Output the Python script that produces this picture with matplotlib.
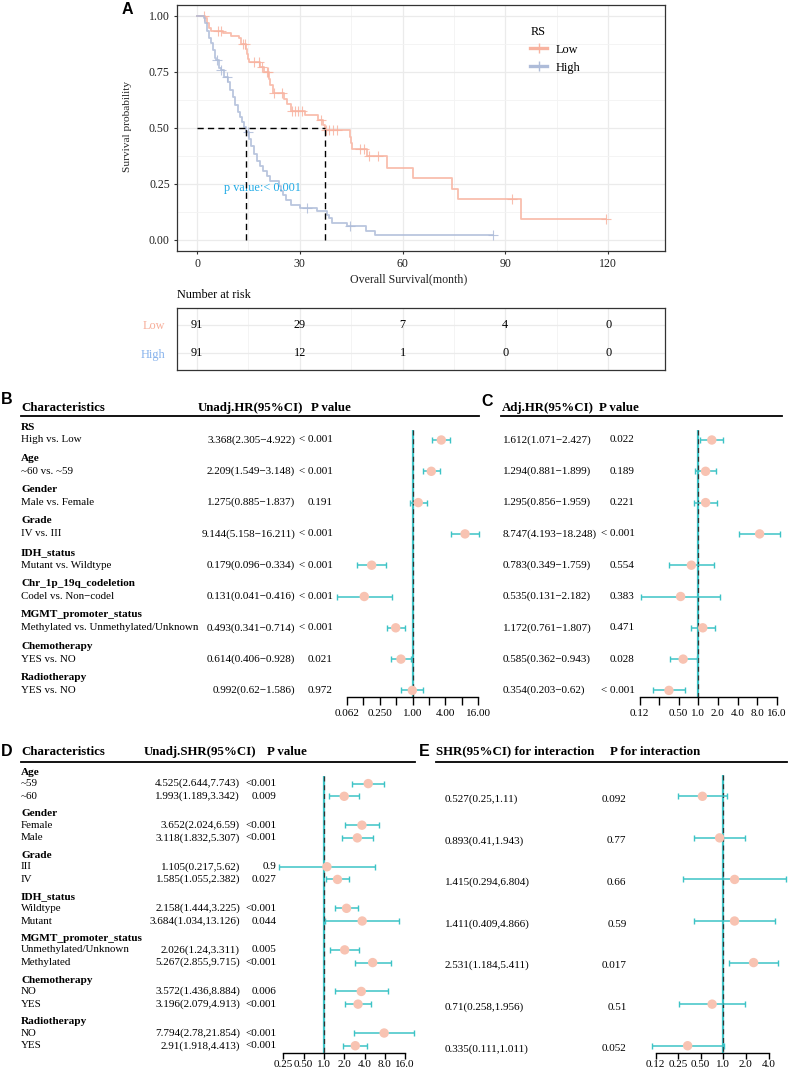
import numpy as np
import matplotlib
matplotlib.use('Agg')
import matplotlib.pyplot as plt
from matplotlib.lines import Line2D
from matplotlib.ticker import NullLocator

# ------------------------------------------------------------------ data
# Panel A: Kaplan-Meier step points (time in months, survival after step)
low_t = [0, 2.3, 2.8, 3.5, 4.2, 7.5, 9.8, 12.3, 12.9, 14.2, 14.7, 15.0, 15.3, 18.4,
         19.6, 20.9, 21.3, 22.1, 25.4, 26.2, 27.3, 31.6, 35.3, 36.9, 37.4, 44.6,
         44.9, 45.2, 49.7, 55.6, 62.9, 74.5, 76.3, 94.5]
low_s = [1.0, 0.989, 0.967, 0.945, 0.934, 0.923, 0.912, 0.900, 0.876, 0.853, 0.830,
         0.806, 0.794, 0.772, 0.750, 0.716, 0.693, 0.654, 0.630, 0.606, 0.576, 0.559,
         0.537, 0.513, 0.489, 0.460, 0.432, 0.405, 0.372, 0.322, 0.275, 0.227, 0.182,
         0.091]
low_end = 119.3
low_cens = [2.1, 6.2, 7.1, 13.4, 13.9, 16.6, 18.0, 18.9, 20.3, 20.8, 22.6, 24.8, 27.8,
            28.7, 29.6, 30.5, 36.2, 37.6, 38.5, 39.8, 41.0, 47.5, 48.6, 50.2, 52.9,
            92.0, 119.3]

high_t = [0, 2.0, 2.4, 2.9, 3.4, 4.2, 4.7, 5.2, 5.5, 6.4, 6.9, 7.8, 9.0, 9.7, 10.5,
          11.1, 11.9, 12.5, 13.0, 13.6, 14.3, 15.2, 15.9, 16.6, 17.4, 18.3, 19.4,
          20.5, 21.2, 24.0, 24.5, 25.0, 26.0, 27.3, 30.0, 35.0, 37.8, 38.5, 39.5,
          43.8, 49.3, 52.0]
high_s = [1.0, 0.989, 0.967, 0.934, 0.901, 0.879, 0.846, 0.813, 0.802, 0.769, 0.758,
          0.725, 0.703, 0.670, 0.637, 0.604, 0.571, 0.549, 0.527, 0.505, 0.483, 0.450,
          0.417, 0.385, 0.352, 0.330, 0.308, 0.286, 0.264, 0.242, 0.220, 0.198, 0.176,
          0.155, 0.144, 0.128, 0.109, 0.096, 0.077, 0.060, 0.040, 0.020]
high_end = 86.5
high_cens = [5.7, 7.1, 8.9, 14.8, 32.0, 44.7, 86.5]

risk_times = [0, 30, 60, 90, 120]
risk_low = [91, 29, 7, 4, 0]
risk_high = [91, 12, 1, 0, 0]
p_text = "p value:< 0.001"

# Panel B / C
b_groups = ["RS", "Age", "Gender", "Grade", "IDH_status", "Chr_1p_19q_codeletion",
            "MGMT_promoter_status", "Chemotherapy", "Radiotherapy"]
b_comp = ["High vs. Low", "~60 vs. ~59", "Male vs. Female", "IV vs. III",
          "Mutant vs. Wildtype", "Codel vs. Non\u2212codel",
          "Methylated vs. Unmethylated/Unknown", "YES vs. NO", "YES vs. NO"]
b_hr = [3.368, 2.209, 1.275, 9.144, 0.179, 0.131, 0.493, 0.614, 0.992]
b_lo = [2.305, 1.549, 0.885, 5.158, 0.096, 0.041, 0.341, 0.406, 0.62]
b_hi = [4.922, 3.148, 1.837, 16.211, 0.334, 0.416, 0.714, 0.928, 1.586]
b_p = ["< 0.001", "< 0.001", "0.191", "< 0.001", "< 0.001", "< 0.001", "< 0.001",
       "0.021", "0.972"]

c_hr = [1.612, 1.294, 1.295, 8.747, 0.783, 0.535, 1.172, 0.585, 0.354]
c_lo = [1.071, 0.881, 0.856, 4.193, 0.349, 0.131, 0.761, 0.362, 0.203]
c_hi = [2.427, 1.899, 1.959, 18.248, 1.759, 2.182, 1.807, 0.943, 0.62]
c_p = ["0.022", "0.189", "0.221", "< 0.001", "0.554", "0.383", "0.471", "0.028",
       "< 0.001"]

# Panel D / E
d_groups = ["Age", "Gender", "Grade", "IDH_status", "MGMT_promoter_status",
            "Chemotherapy", "Radiotherapy"]
d_levels = [["~59", "~60"], ["Female", "Male"], ["III", "IV"], ["Wildtype", "Mutant"],
            ["Unmethylated/Unknown", "Methylated"], ["NO", "YES"], ["NO", "YES"]]
d_hr = [4.525, 1.993, 3.652, 3.118, 1.105, 1.585, 2.158, 3.684, 2.026, 5.267, 3.572,
        3.196, 7.794, 2.91]
d_lo = [2.644, 1.189, 2.024, 1.832, 0.217, 1.055, 1.444, 1.034, 1.24, 2.855, 1.436,
        2.079, 2.78, 1.918]
d_hi = [7.743, 3.342, 6.59, 5.307, 5.62, 2.382, 3.225, 13.126, 3.311, 9.715, 8.884,
        4.913, 21.854, 4.413]
d_p = ["<0.001", "0.009", "<0.001", "<0.001", "0.9", "0.027", "<0.001", "0.044",
       "0.005", "<0.001", "0.006", "<0.001", "<0.001", "<0.001"]

e_hr = [0.527, 0.893, 1.415, 1.411, 2.531, 0.71, 0.335]
e_lo = [0.25, 0.41, 0.294, 0.409, 1.184, 0.258, 0.111]
e_hi = [1.11, 1.943, 6.804, 4.866, 5.411, 1.956, 1.011]
e_p = ["0.092", "0.77", "0.66", "0.59", "0.017", "0.51", "0.052"]

# ------------------------------------------------------------------ style
W, H = 790, 1074
SERIF = ['Liberation Serif', 'DejaVu Serif']
SANS = ['Liberation Sans', 'DejaVu Sans']
plt.rcParams['font.family'] = SERIF
LOW_C = '#F8B3A0'
HIGH_C = '#AEBCD9'
LOW_LAB = '#F7AE9A'
HIGH_LAB = '#86B2EC'
TEAL = '#3DC3C6'
SALMON = '#F8C3B2'
TXT = '#222222'
GRID = '#EBEBEB'

fig = plt.figure(figsize=(W / 100, H / 100), dpi=100)


def pax(x0, y0, x1, y1):
    return fig.add_axes([x0 / W, 1 - y1 / H, (x1 - x0) / W, (y1 - y0) / H])


ov = fig.add_axes([0, 0, 1, 1])
ov.set_xlim(0, W)
ov.set_ylim(H, 0)
ov.axis('off')
ov.patch.set_alpha(0)


def T(x, y, s, size=8, bold=False, ha='left', color='black', fam=None, **kw):
    ov.text(x, y, s, fontsize=size, fontweight='bold' if bold else 'normal',
            ha=ha, va='center', color=color, family=fam or SERIF, **kw)


# ------------------------------------------------------------------ panel A
ax = pax(177, 4.6, 665, 251)
ax.set_xlim(-5.84, 136.6)
ax.set_ylim(-0.05, 1.05)
ax.set_xticks(risk_times)
ax.set_xticks([15, 45, 75, 105], minor=True)
ax.set_yticks([0, 0.25, 0.5, 0.75, 1.0])
ax.set_yticklabels(['0.00', '0.25', '0.50', '0.75', '1.00'])
ax.set_yticks([0.125, 0.375, 0.625, 0.875], minor=True)
ax.grid(which='major', color=GRID, lw=0.9)
ax.grid(which='minor', color='#F3F3F3', lw=0.6)
ax.set_axisbelow(True)
ax.tick_params(which='major', length=2.2, width=0.8, color='#333333', labelsize=8.6,
               labelcolor=TXT, pad=3.0)
ax.tick_params(which='minor', length=0)
for s in ax.spines.values():
    s.set_color('#333333')
    s.set_linewidth(0.9)


def km(t, s, t_end, cens, color):
    tt = np.r_[t, t_end]
    ss = np.r_[s, s[-1]]
    ax.step(tt, ss, where='post', color=color, lw=1.3, alpha=0.85, zorder=3)
    t_arr = np.asarray(t)
    idx = np.searchsorted(t_arr, cens, side='right') - 1
    ax.plot(cens, np.asarray(s)[idx], linestyle='none', marker='+', ms=6.5, mew=0.8,
            color=color, alpha=0.85, zorder=3)
    med = t_arr[np.argmax(np.asarray(s) <= 0.5)]
    return med


med_low = km(low_t, low_s, low_end, low_cens, LOW_C)
med_high = km(high_t, high_s, high_end, high_cens, HIGH_C)
dash = (0, (4.5, 3))
ax.plot([0, max(med_low, med_high)], [0.5, 0.5], color='black', lw=1.0, ls=dash, zorder=4)
ax.vlines([med_high, med_low], 0, 0.5, color='black', lw=1.0, linestyles=[dash], zorder=4)
ax.text(8.0, 0.233, p_text, color='#1FAAE6', fontsize=8.8, va='center', ha='left')

handles = [Line2D([], [], color=LOW_C, lw=2.4, marker='+', ms=7, mew=1),
           Line2D([], [], color=HIGH_C, lw=2.4, marker='+', ms=7, mew=1)]
leg = ax.legend(handles, ['Low', 'High'], title='RS', loc='upper left',
                bbox_to_anchor=(0.724, 0.915), frameon=False, fontsize=8.8,
                title_fontsize=8.8, handlelength=1.4, handletextpad=0.7,
                labelspacing=0.5, borderaxespad=0, borderpad=0, alignment='left')

T(128, 126.7, 'Survival probability', size=8.2, rotation=90, ha='center', color=TXT)
T(409, 279.5, 'Overall Survival(month)', size=8.6, ha='center', color=TXT)
T(177, 295, 'Number at risk', size=8.8)
T(127, 10, 'A', size=11.5, bold=True, ha='center', fam=SANS)

# risk table
rt = pax(177, 307.7, 665, 370)
rt.set_xlim(-5.84, 136.6)
rt.set_ylim(0.4, 2.6)
rt.set_xticks(risk_times)
rt.set_xticks([15, 45, 75, 105], minor=True)
rt.set_yticks([2, 1])
rt.set_yticklabels(['Low', 'High'])
rt.grid(which='major', color=GRID, lw=0.9)
rt.grid(which='minor', axis='x', color='#F3F3F3', lw=0.6)
rt.set_axisbelow(True)
rt.tick_params(axis='x', which='both', length=0, labelbottom=False)
rt.tick_params(axis='y', length=0, labelsize=8.8, pad=8.5)
for lab, c in zip(rt.get_yticklabels(), [LOW_LAB, HIGH_LAB]):
    lab.set_color(c)
for s in rt.spines.values():
    s.set_color('#333333')
    s.set_linewidth(0.9)
for tm, nl, nh in zip(risk_times, risk_low, risk_high):
    rt.text(tm, 2, str(nl), ha='center', va='center', fontsize=8.8)
    rt.text(tm, 1, str(nh), ha='center', va='center', fontsize=8.8)


# ------------------------------------------------------------------ forest helper
def forest(x0, x1, ref_px, ppd, ys, hr, lo, hi, ref_top, axis_y, ticks, labels,
           tlen=5.5, pad=3.0):
    a = fig.add_axes([x0 / W, 0, (x1 - x0) / W, 1])
    a.set_xscale('log', base=2)
    a.set_xlim(2 ** ((x0 - ref_px) / ppd), 2 ** ((x1 - ref_px) / ppd))
    a.set_ylim(H, 0)
    a.patch.set_visible(False)
    for s in ['top', 'left', 'right']:
        a.spines[s].set_visible(False)
    a.spines['bottom'].set_position(('data', axis_y))
    a.spines['bottom'].set_bounds(ticks[0], ticks[-1])
    a.spines['bottom'].set_linewidth(1.0)
    a.set_xticks(ticks)
    a.set_xticklabels(labels)
    a.xaxis.set_minor_locator(NullLocator())
    a.tick_params(axis='x', direction='out', length=tlen, width=1.0, labelsize=8,
                  pad=pad)
    a.set_yticks([])
    a.vlines(1, ref_top, axis_y, color=TEAL, lw=1.6, zorder=1)
    a.vlines(1, ref_top, axis_y, color='#333333', lw=0.9, linestyles=[(0, (4, 3))],
             zorder=2)
    a.hlines(ys, lo, hi, color=TEAL, lw=1.1, zorder=3, clip_on=False)
    a.plot(lo, ys, linestyle='none', marker='|', ms=4, mew=1.0, color=TEAL,
           clip_on=False, zorder=3)
    a.plot(hi, ys, linestyle='none', marker='|', ms=4, mew=1.0, color=TEAL,
           clip_on=False, zorder=3)
    a.scatter(hr, ys, s=46, color=SALMON, edgecolors='none', zorder=4, clip_on=False)
    return a


# ------------------------------------------------------------------ panel B / C
T(7, 400, 'B', size=11.5, bold=True, ha='center', fam=SANS)
T(487.5, 402, 'C', size=11.5, bold=True, ha='center', fam=SANS)
T(21, 407.7, 'Characteristics', size=9.3, bold=True)
T(198, 407.7, 'Unadj.HR(95%CI)', size=9.3, bold=True)
T(310.7, 407.7, 'P value', size=9.3, bold=True)
T(501.7, 407.7, 'Adj.HR(95%CI)', size=9.3, bold=True)
T(599.3, 407.7, 'P value', size=9.3, bold=True)
ov.plot([21, 479], [415.7, 415.7], color='black', lw=1.3)
ov.plot([501, 782], [415.7, 415.7], color='black', lw=1.3)

b_sub_y = []
for k, g in enumerate(b_groups):
    hy = 427.0 + 31.3 * k
    sy = 440.0 + 31.3 * k
    b_sub_y.append(sy)
    T(21, hy, g, size=8.1, bold=True)
    T(21, sy, b_comp[k], size=7.9)
    T(295, sy, f"{b_hr[k]}({b_lo[k]}\u2212{b_hi[k]})", size=8, ha='right')
    T(333, sy, b_p[k], size=8, ha='right')
    T(502.7, sy, f"{c_hr[k]}({c_lo[k]}\u2212{c_hi[k]})", size=8)
    T(634.7, sy, c_p[k], size=8, ha='right')

forest(330, 486, 412.5, 16.45, b_sub_y, b_hr, b_lo, b_hi, 430, 697.3,
       [2.0 ** i for i in range(-4, 5)],
       ['0.062', '', '0.250', '', '1.00', '', '4.00', '', '16.00'])
forest(630, 786, 698.3, 19.6, b_sub_y, c_hr, c_lo, c_hi, 430, 697.3,
       [2.0 ** i for i in range(-3, 5)],
       ['0.12', '', '0.50', '1.0', '2.0', '4.0', '8.0', '16.0'])

# ------------------------------------------------------------------ panel D / E
T(7, 751, 'D', size=11.5, bold=True, ha='center', fam=SANS)
T(424, 752, 'E', size=11.5, bold=True, ha='center', fam=SANS)
T(21, 751.7, 'Characteristics', size=9.3, bold=True)
T(144, 751.7, 'Unadj.SHR(95%CI)', size=9.3, bold=True)
T(266.7, 751.7, 'P value', size=9.3, bold=True)
T(436, 751.7, 'SHR(95%CI) for interaction', size=9.3, bold=True)
T(610, 751.7, 'P for interaction', size=9.3, bold=True)
ov.plot([21, 415], [761.7, 761.7], color='black', lw=1.3)
ov.plot([436, 787], [761.7, 761.7], color='black', lw=1.3)

d_y = []
e_y = []
i = 0
for g, name in enumerate(d_groups):
    h = 772.3 + 41.57 * g
    T(21, h, name, size=8.1, bold=True)
    for j, lev in enumerate(d_levels[g]):
        y = h + (11.3 if j == 0 else 24.0)
        d_y.append(y)
        T(21, y, lev, size=7.9)
        T(240, y, f"{d_hr[i]}({d_lo[i]},{d_hi[i]})", size=8, ha='right')
        T(276.5, y, d_p[i], size=8, ha='right')
        i += 1
    e_y.append(h + 24.0)
    T(445, h + 27.0, f"{e_hr[g]}({e_lo[g]},{e_hi[g]})", size=8)
    T(626.5, h + 27.0, e_p[g], size=8, ha='right')

forest(270, 420, 324, 20.3, d_y, d_hr, d_lo, d_hi, 776, 1052.7,
       [2.0 ** i for i in range(-2, 5)],
       ['0.25', '0.50', '1.0', '2.0', '4.0', '8.0', '16.0'], tlen=4, pad=1.5)
forest(645, 790, 723.3, 22.6, e_y, e_hr, e_lo, e_hi, 775, 1052.7,
       [2.0 ** i for i in range(-3, 3)],
       ['0.12', '0.25', '0.50', '1.0', '2.0', '4.0'], tlen=4, pad=1.5)

fig.savefig('out.png', dpi=100)
